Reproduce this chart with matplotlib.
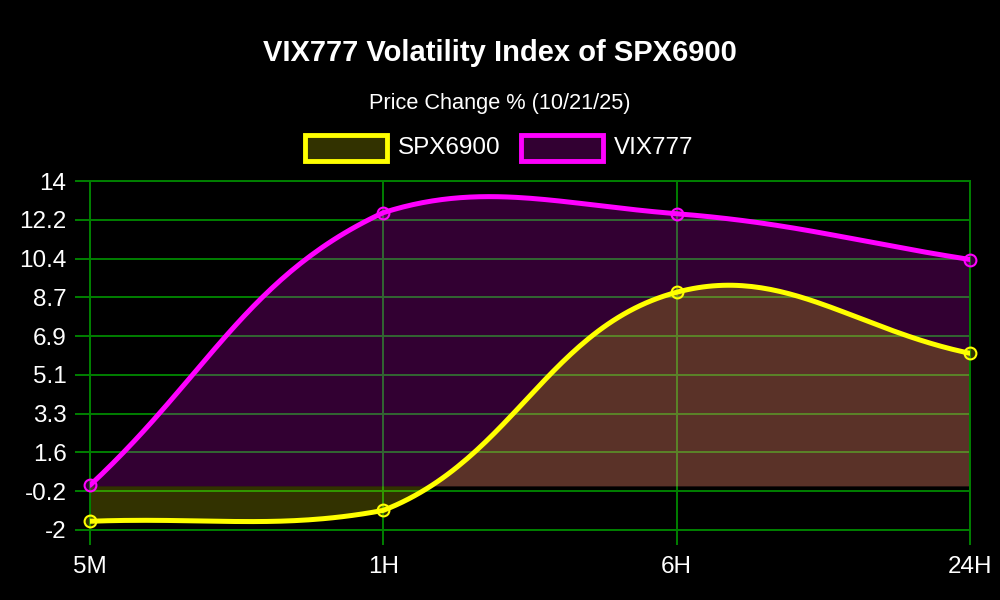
import numpy as np
import matplotlib.pyplot as plt
from matplotlib.patches import Rectangle

plt.rcParams['font.family'] = ['Liberation Sans', 'DejaVu Sans']

# data
labels = ["5M", "1H", "6H", "24H"]
spx = [-1.6, -1.1, 8.9, 6.1]
vix = [0.05, 12.55, 12.5, 10.4]
series_names = ["SPX6900", "VIX777"]
line_colors = ["#ffff00", "#ff00ff"]
fill_colors = ["#ffff0033", "#ff00ff33"]
y_tick_labels = ["-2", "-0.2", "1.6", "3.3", "5.1", "6.9", "8.7", "10.4", "12.2", "14"]

GRID = "#008000"


def chartjs_curve(ax, xs, ys, tension=0.4, steps=60):
    # same control points as a Chart.js line with tension, capped to the plot area
    pts = ax.transData.transform(np.column_stack([xs, ys]))
    left, bottom, right, top = ax.bbox.extents
    n = len(pts)
    cp_prev, cp_next = [], []
    for i in range(n):
        prev = pts[max(i - 1, 0)]
        cur = pts[i]
        nxt = pts[min(i + 1, n - 1)]
        d01 = np.hypot(*(cur - prev))
        d12 = np.hypot(*(nxt - cur))
        s01 = d01 / (d01 + d12) if d01 + d12 else 0
        s12 = d12 / (d01 + d12) if d01 + d12 else 0
        a = cur - tension * s01 * (nxt - prev)
        b = cur + tension * s12 * (nxt - prev)
        for c in (a, b):
            c[0] = min(max(c[0], left), right)
            c[1] = min(max(c[1], bottom), top)
        cp_prev.append(a)
        cp_next.append(b)
    t = np.linspace(0, 1, steps)[:, None]
    out = [pts[:1]]
    for i in range(n - 1):
        p0, p1, p2, p3 = pts[i], cp_next[i], cp_prev[i + 1], pts[i + 1]
        seg = ((1 - t) ** 3) * p0 + 3 * ((1 - t) ** 2) * t * p1 + 3 * (1 - t) * t ** 2 * p2 + t ** 3 * p3
        out.append(seg[1:])
    out = np.vstack(out)
    data = ax.transData.inverted().transform(out)
    return data[:, 0], data[:, 1]


fig = plt.figure(figsize=(10, 6), dpi=100, facecolor="black")
ax = fig.add_axes([0.09, 1 - 530 / 600, 0.88, (530 - 181) / 600])
ax.set_facecolor("black")

x = np.arange(len(labels))
ax.set_xlim(0, len(labels) - 1)
ax.set_ylim(-2, 14)

ax.set_xticks(x)
ax.set_xticklabels(labels)
ax.set_yticks(np.linspace(-2, 14, len(y_tick_labels)))
ax.set_yticklabels(y_tick_labels)

ax.grid(True, color=GRID, linewidth=1.4)
ax.set_axisbelow(True)
for s in ax.spines.values():
    s.set_color(GRID)
    s.set_linewidth(1.4)
ax.tick_params(axis="both", colors=GRID, labelcolor="white", length=11, width=1.4, labelsize=17.5)
ax.tick_params(axis="y", pad=6)
ax.tick_params(axis="x", pad=8)

series = [spx, vix]
# VIX first so SPX ends up on top
for k in [1, 0]:
    cx, cy = chartjs_curve(ax, x, series[k])
    ax.fill(np.r_[cx, cx[-1], cx[0]], np.r_[cy, 0, 0], color=fill_colors[k], linewidth=0, zorder=2)
for k in [1, 0]:
    cx, cy = chartjs_curve(ax, x, series[k])
    ax.plot(cx, cy, color=line_colors[k], linewidth=3.6, solid_capstyle="round", zorder=3)
    ax.plot(x, series[k], "o", ms=8.5, mfc=fill_colors[k], mec=line_colors[k], mew=1.5,
            zorder=4, clip_on=False)

fig.text(0.5, 1 - 53 / 600, "VIX777 Volatility Index of SPX6900", color="white",
         fontsize=21, fontweight="bold", ha="center", va="center")
fig.text(0.5, 1 - 103 / 600, "Price Change % (10/21/25)", color="white",
         fontsize=15.7, ha="center", va="center")

# legend drawn by hand: boxes with thick coloured border
box_x = [305, 521]
for k in range(2):
    fig.patches.append(Rectangle((box_x[k] / 1000, 1 - 161 / 600), 82 / 1000, 26 / 600,
                                 transform=fig.transFigure, facecolor=fill_colors[k],
                                 edgecolor=line_colors[k], linewidth=3.5))
    fig.text((box_x[k] + 93) / 1000, 1 - 148 / 600, series_names[k], color="white",
             fontsize=17.5, ha="left", va="center")

fig.savefig("out.png", dpi=100, facecolor="black")
